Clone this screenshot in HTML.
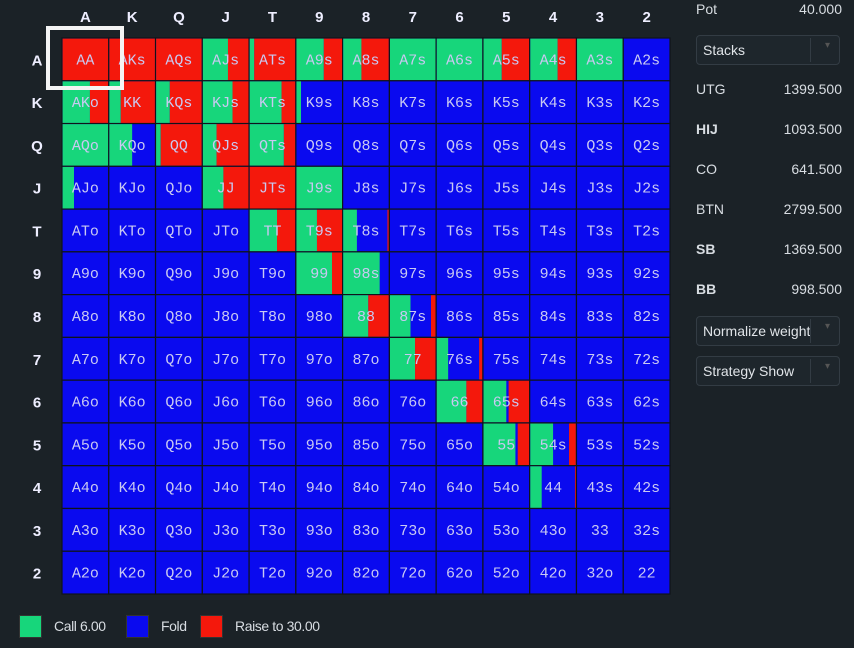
<!DOCTYPE html>
<html><head><meta charset="utf-8">
<style>
body{margin:0;width:854px;height:648px;background:#1b2227;overflow:hidden;font-family:"Liberation Sans",sans-serif;position:relative}
.side{position:absolute;color:#d8dde2;font-size:14px}
.dd{position:absolute;left:696px;width:144px;height:30px;border:1px solid #333c44;border-radius:4px;background:#1e262c;color:#e0e4e8;font-size:14px;box-sizing:border-box;padding:6px 6px}
.dd:after{content:"";position:absolute;right:28px;top:2px;bottom:2px;border-left:1px solid #333c44}
.dd span{position:absolute;right:9px;top:4px;color:#555;font-size:10px}
.lg{position:absolute;top:615px;width:21px;height:21px;border:1px solid #333}
.lt{position:absolute;top:618px;color:#d8dde2;font-size:14px;letter-spacing:-0.4px}
</style></head><body>
<svg id="grid" width="680" height="600" style="position:absolute;left:0;top:0"></svg>
<div style="position:absolute;left:46px;top:26px;width:70px;height:56px;border:4px solid #f4f4f4"></div>

<div class="side" style="left:696px;top:1px">Pot</div>
<div class="side" style="left:760px;width:82px;text-align:right;top:1px">40.000</div>
<div class="dd" style="top:35px">Stacks<span>▾</span></div>
<div class="side" style="left:696px;top:81px">UTG</div>
<div class="side" style="left:760px;width:82px;text-align:right;top:81px">1399.500</div>
<div class="side" style="left:696px;top:121px;font-weight:bold">HIJ</div>
<div class="side" style="left:760px;width:82px;text-align:right;top:121px">1093.500</div>
<div class="side" style="left:696px;top:161px">CO</div>
<div class="side" style="left:760px;width:82px;text-align:right;top:161px">641.500</div>
<div class="side" style="left:696px;top:201px">BTN</div>
<div class="side" style="left:760px;width:82px;text-align:right;top:201px">2799.500</div>
<div class="side" style="left:696px;top:241px;font-weight:bold">SB</div>
<div class="side" style="left:760px;width:82px;text-align:right;top:241px">1369.500</div>
<div class="side" style="left:696px;top:281px;font-weight:bold">BB</div>
<div class="side" style="left:760px;width:82px;text-align:right;top:281px">998.500</div>
<div class="dd" style="top:316px">Normalize weight<span>▾</span></div>
<div class="dd" style="top:356px">Strategy Show<span>▾</span></div>

<div class="lg" style="left:19px;background:#17d67b"></div>
<div class="lt" style="left:54px">Call 6.00</div>
<div class="lg" style="left:126px;background:#0a0aef"></div>
<div class="lt" style="left:161px">Fold</div>
<div class="lg" style="left:200px;background:#f4180c"></div>
<div class="lt" style="left:235px">Raise to 30.00</div>

<script>
const ranks=["A","K","Q","J","T","9","8","7","6","5","4","3","2"];
const callFreq=[
[0,0,0,.55,.1,.6,.4,1,1,.4,.6,1,0],
[.6,.25,.3,.65,.7,.1,0,0,0,0,0,0,0],
[1,.5,.1,.3,.75,0,0,0,0,0,0,0,0],
[.25,0,0,.45,0,1,0,0,0,0,0,0,0],
[0,0,0,0,.6,.45,.3,0,0,0,0,0,0],
[0,0,0,0,0,.78,.8,0,0,0,0,0,0],
[0,0,0,0,0,0,.55,.45,0,0,0,0,0],
[0,0,0,0,0,0,0,.55,.25,0,0,0,0],
[0,0,0,0,0,0,0,0,.65,.5,0,0,0],
[0,0,0,0,0,0,0,0,0,.7,.5,0,0],
[0,0,0,0,0,0,0,0,0,0,.25,0,0],
[0,0,0,0,0,0,0,0,0,0,0,0,0],
[0,0,0,0,0,0,0,0,0,0,0,0,0]];
const raiseFreq=[
[1,1,1,.45,.9,.4,.6,0,0,.6,.4,0,0],
[.4,.75,.7,.35,.3,0,0,0,0,0,0,0,0],
[0,0,.9,.7,.25,0,0,0,0,0,0,0,0],
[0,0,0,.55,1,0,0,0,0,0,0,0,0],
[0,0,0,0,.4,.55,.03,0,0,0,0,0,0],
[0,0,0,0,0,.22,0,0,0,0,0,0,0],
[0,0,0,0,0,0,.45,.1,0,0,0,0,0],
[0,0,0,0,0,0,0,.45,.07,0,0,0,0],
[0,0,0,0,0,0,0,0,.35,.45,0,0,0],
[0,0,0,0,0,0,0,0,0,.25,.15,0,0],
[0,0,0,0,0,0,0,0,0,0,.02,0,0],
[0,0,0,0,0,0,0,0,0,0,0,0,0],
[0,0,0,0,0,0,0,0,0,0,0,0,0]];

const NS="http://www.w3.org/2000/svg";
const svg=document.getElementById("grid");
const X0=62,Y0=38,CW=46.77,CH=42.77;
const xPos=c=>X0+c*CW, yPos=r=>Y0+r*CH;
function mk(t,a){const e=document.createElementNS(NS,t);for(const k in a)e.setAttribute(k,a[k]);svg.appendChild(e);return e;}
ranks.forEach((rk,i)=>{
  const h=mk("text",{x:xPos(i)+CW/2,y:22,"text-anchor":"middle","font-family":"Liberation Sans, sans-serif","font-weight":"bold","font-size":"15",fill:"#eef"});
  h.textContent=rk;
  
  
  const v=mk("text",{x:37,y:yPos(i)+CH/2+6,"text-anchor":"middle","font-family":"Liberation Sans, sans-serif","font-weight":"bold","font-size":"15",fill:"#eef"});
  v.textContent=rk;
  
  
});
for(let r=0;r<13;r++)for(let c=0;c<13;c++){
  const x=xPos(c),y=yPos(r);
  const g=callFreq[r][c],rd=raiseFreq[r][c];
  const b=mk("rect",{x:x,y:y,width:CW,height:CH,fill:"#0a0aef",stroke:"#101418","stroke-width":"1.2"});
  
  
  if(g>0){const e=mk("rect",{x:x+0.6,y:y+0.6,width:g*(CW-1.2),height:CH-1.2,fill:"#17d67b"});
    
    }
  if(rd>0){const w=rd*(CW-1.2);const e=mk("rect",{x:x+CW-0.6-w,y:y+0.6,width:w,height:CH-1.2,fill:"#f4180c"});
    
    }
  let lab;
  if(r===c)lab=ranks[r]+ranks[c];
  else if(c>r)lab=ranks[r]+ranks[c]+"s";
  else lab=ranks[c]+ranks[r]+"o";
  const t=mk("text",{x:x+CW/2,y:y+CH/2+5,"text-anchor":"middle","font-family":"Liberation Mono, monospace","font-size":"15",fill:"#c9c9f2"});
  t.textContent=lab;
  
  
}
</script>
</body></html>
